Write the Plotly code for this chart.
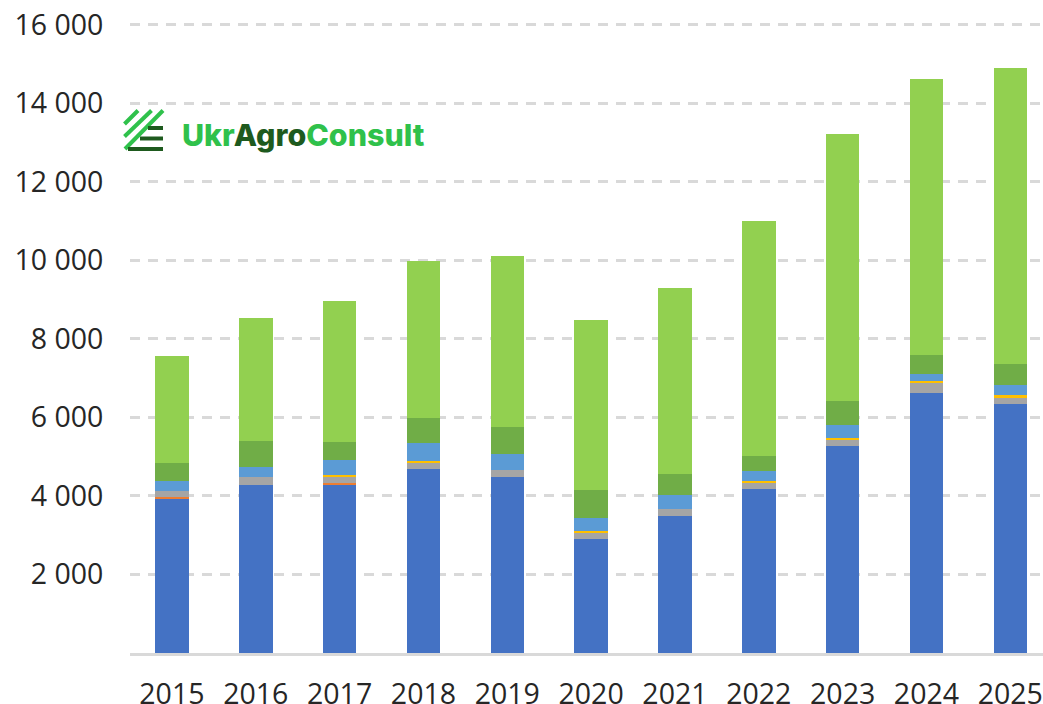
import plotly.graph_objects as go

W, H = 1043, 704
L, R, T, B = 130, 0, 21, 51

years = ["2015", "2016", "2017", "2018", "2019", "2020", "2021", "2022", "2023", "2024", "2025"]
blue = [3927, 4290, 4290, 4680, 4490, 2905, 3500, 4180, 5270, 6620, 6355]
orange = [38, 0, 30, 0, 0, 0, 0, 0, 0, 0, 0]
gray = [165, 200, 170, 170, 160, 155, 170, 140, 160, 250, 155]
yellow = [0, 0, 40, 35, 0, 50, 0, 65, 50, 65, 50]
light_blue = [255, 250, 380, 460, 420, 330, 350, 240, 320, 170, 280]
dark_green = [465, 660, 465, 645, 690, 710, 530, 390, 625, 495, 530]
light_green = [2720, 3140, 3595, 4000, 4360, 4340, 4750, 5995, 6805, 7010, 7530]
y_ticks = [2000, 4000, 6000, 8000, 10000, 12000, 14000, 16000]
y_labels = ["2 000", "4 000", "6 000", "8 000", "10 000", "12 000", "14 000", "16 000"]

series = [
    (blue, "#4472C4"),
    (orange, "#ED7D31"),
    (gray, "#A5A5A5"),
    (yellow, "#FFC000"),
    (light_blue, "#5B9BD5"),
    (dark_green, "#70AD47"),
    (light_green, "#92D050"),
]

fig = go.Figure()
for vals, col in series:
    fig.add_trace(go.Bar(x=years, y=vals, marker=dict(color=col, line=dict(width=0)), showlegend=False))


def px(x):
    return (x - L) / (W - L - R)


def py(y):
    return 1 - (y - T) / (H - T - B)


shapes = []
for x0, y0, x1, y1 in [(124.5, 124, 138, 110.5), (124.5, 136.5, 151.5, 110.5), (125, 149, 163, 110.5)]:
    shapes.append(dict(type="line", xref="paper", yref="paper", x0=px(x0), y0=py(y0), x1=px(x1), y1=py(y1),
                       line=dict(color="#2FC14B", width=4)))
for x0, y0, x1 in [(148, 128, 163), (140, 138.5, 163), (128, 149, 163)]:
    shapes.append(dict(type="line", xref="paper", yref="paper", x0=px(x0), y0=py(y0), x1=px(x1), y1=py(y0),
                       line=dict(color="#1E5A1E", width=4)))

fig.update_layout(
    barmode="stack",
    bargap=0.6,
    width=W,
    height=H,
    autosize=False,
    margin=dict(l=L, r=R, t=T, b=B, pad=0, autoexpand=False),
    paper_bgcolor="white",
    plot_bgcolor="white",
    font=dict(family="Open Sans", size=28.5, color="#262626"),
    shapes=shapes,
    annotations=[dict(
        xref="paper", yref="paper", x=px(180), y=py(135), xanchor="left", yanchor="middle",
        showarrow=False, align="left",
        text='<span style="color:#2FC14B">Ukr</span><span style="color:#1E5A1E">Agro</span>'
             '<span style="color:#2FC14B">Consult</span>',
        font=dict(family="Inter", size=30.4, weight=800),
    )],
    xaxis=dict(
        type="category",
        range=[-0.5, 10.39],
        automargin=False,
        showgrid=False,
        showline=True,
        linecolor="#D9D9D9",
        linewidth=2.5,
        ticks="outside",
        ticklen=14,
        tickcolor="rgba(0,0,0,0)",
        tickfont=dict(size=28.5, color="#262626"),
    ),
    yaxis=dict(
        range=[0, 16100],
        automargin=False,
        tickvals=y_ticks,
        ticktext=y_labels,
        showgrid=True,
        gridcolor="#D9D9D9",
        gridwidth=2.5,
        griddash="10px,8px",
        zeroline=False,
        showline=False,
        ticks="outside",
        ticklen=20,
        tickcolor="rgba(0,0,0,0)",
        tickfont=dict(size=28.5, color="#262626"),
    ),
)

fig.write_html("out.html", config={"displayModeBar": False},
               post_script="document.body.style.margin='0';document.documentElement.style.overflow='hidden';")
